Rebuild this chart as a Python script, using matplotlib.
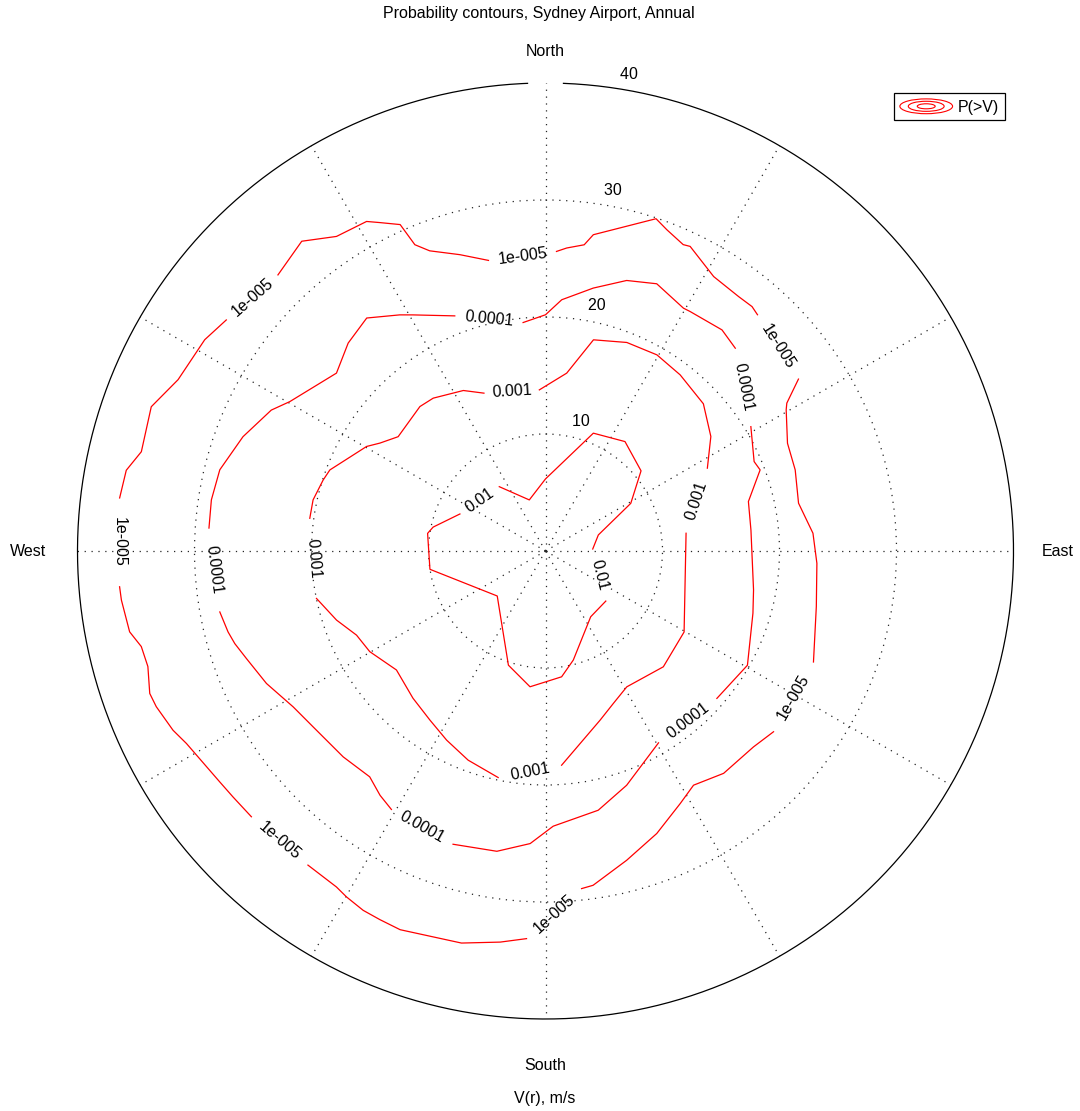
import numpy as np
import matplotlib
matplotlib.use('Agg')
import matplotlib.pyplot as plt
from matplotlib.lines import Line2D
from matplotlib.patches import Ellipse
from matplotlib.legend_handler import HandlerBase

plt.rcParams['font.family'] = ['Liberation Sans', 'DejaVu Sans']
FS = 11.5

# contour levels of P(>V); each contour is a list of pieces (bearing deg, speed m/s),
# the breaks between pieces are where the inline labels sit
level_names = ['0.01', '0.001', '0.0001', '1e-005']

dir_01 = [[324.3, 342.4, 0.0, 22.1, 36.0, 50.0, 60.8, 73.1, 87.6],
          [129.7, 145.5, 165.7, 172.7, 186.5, 198.0, 227.0, 261.0, 278.5, 282.0, 293.4]]
spd_01 = [[6.77, 4.58, 6.16, 10.87, 11.56, 10.66, 8.35, 4.72, 4.04],
          [6.70, 6.82, 9.62, 10.84, 11.68, 10.26, 5.64, 10.00, 10.19, 9.82, 7.97]]

dir_001 = [[357.8, 6.8, 12.8, 21.3, 29.6, 37.4, 47.0, 55.3, 62.9],
           [82.8, 120.3, 134.5, 149.1, 156.0, 162.1, 175.7],
           [191.8, 200.3, 207.6, 214.3, 222.0, 231.4, 240.2, 246.0, 251.7, 258.3],
           [277.9, 282.4, 287.7, 290.6, 300.3, 303.1, 307.8, 319.0, 323.7, 332.9, 338.7]]
spd_001 = [[13.78, 15.31, 18.51, 19.13, 19.28, 18.95, 18.45, 17.19, 15.54],
           [12.11, 13.72, 14.12, 13.53, 14.26, 15.19, 18.36],
           [19.78, 19.06, 18.24, 17.51, 16.93, 16.30, 17.31, 17.68, 18.81, 19.99],
           [20.34, 20.34, 19.95, 19.69, 17.71, 16.89, 15.94, 16.36, 16.21, 15.41, 14.48]]

dir_0001 = [[354.4, 0.0, 3.7, 10.3, 16.7, 22.6, 29.6, 31.1, 38.6, 43.1],
            [58.8, 66.8, 69.3, 76.3, 84.2, 100.6, 106.7, 119.5, 130.7],
            [149.5, 160.9, 168.5, 178.4, 183.0, 189.2, 197.5],
            [210.8, 214.1, 217.9, 224.5, 232.9, 238.3, 244.6, 250.2, 253.4, 255.7, 259.4],
            [273.9, 278.7, 284.0, 290.7, 297.2, 300.3, 310.4, 316.5, 322.5, 328.3, 330.7, 338.9]]
spd_0001 = [[19.62, 20.19, 21.52, 22.84, 24.14, 24.74, 23.87, 23.91, 24.18, 23.74],
            [20.52, 19.40, 19.61, 17.85, 17.65, 18.09, 18.51, 19.83, 19.32],
            [19.03, 21.19, 22.61, 23.53, 25.04, 26.00, 26.28],
            [25.72, 25.22, 24.46, 24.67, 24.91, 25.35, 26.40, 27.16, 27.71, 28.00, 28.32],
            [28.83, 28.89, 28.69, 27.64, 26.35, 25.31, 23.46, 24.50, 25.10, 23.72, 23.14, 21.54]]

dir_00001 = [[2.1, 4.0, 7.2, 8.6, 18.4, 20.7, 24.2, 25.4, 31.5, 37.2, 40.2, 41.9],
             [55.8, 58.5, 59.6, 66.0, 72.0, 79.3, 86.2, 92.6, 101.6, 112.5],
             [128.4, 133.3, 141.3, 147.7, 151.9, 158.5, 165.3, 171.9, 173.9],
             [182.8, 186.6, 192.1, 201.0, 204.2, 206.9, 209.9, 211.9, 217.1],
             [227.9, 231.8, 234.7, 241.8, 244.3, 248.2, 250.2, 253.8, 256.7, 259.0, 263.4, 265.2],
             [277.1, 280.9, 283.8, 290.1, 295.0, 301.8, 305.9],
             [315.9, 321.8, 326.4, 331.5, 333.2, 336.0, 336.9, 338.9, 343.9, 348.9]]
spd_00001 = [[25.62, 25.96, 26.38, 27.34, 29.93, 29.35, 28.71, 28.82, 27.51, 27.30, 27.35, 27.13],
             [26.14, 24.19, 23.85, 22.64, 22.44, 22.01, 22.91, 23.22, 23.63, 24.79],
             [24.87, 24.42, 24.35, 23.68, 24.46, 25.95, 27.33, 28.86, 29.02],
             [33.17, 33.65, 34.27, 34.67, 34.54, 34.44, 34.11, 33.82, 33.66],
             [33.88, 33.99, 34.13, 34.82, 35.33, 35.83, 35.95, 35.39, 35.50, 36.21, 36.49, 36.53],
             [36.68, 36.49, 35.57, 35.88, 34.65, 34.27, 33.68],
             [32.86, 33.69, 32.28, 32.05, 31.45, 30.54, 28.46, 27.50, 26.36, 25.31]]

contour_dirs = [dir_01, dir_001, dir_0001, dir_00001]
contour_spds = [spd_01, spd_001, spd_0001, spd_00001]

rings = [10, 20, 30, 40]
compass = ['North', 'East', 'South', 'West']


class ContourIcon(HandlerBase):
    def create_artists(self, legend, orig_handle, xdescent, ydescent,
                       width, height, fontsize, trans):
        cx, cy = width / 2 - xdescent, height / 2 - ydescent
        out = []
        for f in (1.0, 0.68, 0.34):
            out.append(Ellipse((cx, cy), width * f, height * f, fill=False,
                               edgecolor='red', lw=0.8, transform=trans))
        return out


fig = plt.figure(figsize=(10.8, 11.11), dpi=100)
ax = fig.add_axes([77.5 / 1080, 92 / 1111, 936 / 1080, 936 / 1111], projection='polar')
ax.set_theta_zero_location('N')
ax.set_theta_direction(-1)
ax.set_ylim(0, rings[-1])
ax.set_xticks(np.radians(np.arange(0, 360, 30)))
ax.set_xticklabels([])
ax.set_yticks(rings[:-1])
ax.set_yticklabels([])
ax.tick_params(length=0)
ax.grid(True, color='0.15', linestyle=(0, (1, 4.5)), linewidth=0.9)
ax.spines['polar'].set_visible(False)

# outer circle (small break at north as in the original)
th = np.radians(np.linspace(2.2, 357.8, 500))
ax.plot(th, np.full_like(th, rings[-1]), color='k', lw=0.9, clip_on=False)

# ring labels
for r in rings:
    ax.text(np.radians(8), r + 0.5, '  %d' % r, ha='left', va='bottom', fontsize=FS)

compass_r = [42.7, 43.75, 43.97, 44.2]
for k, (name, rr) in enumerate(zip(compass, compass_r)):
    ax.text(np.radians(90 * k), rr, name, ha='center', va='center', fontsize=FS)

# contours
for name, dirs, spds in zip(level_names, contour_dirs, contour_spds):
    n = len(dirs)
    for d, s in zip(dirs, spds):
        ax.plot(np.radians(d), s, color='red', lw=0.9)
    for i in range(n):
        d0, s0 = np.radians(dirs[i][-1]), spds[i][-1]
        d1, s1 = np.radians(dirs[(i + 1) % n][0]), spds[(i + 1) % n][0]
        x0, y0 = s0 * np.sin(d0), s0 * np.cos(d0)
        x1, y1 = s1 * np.sin(d1), s1 * np.cos(d1)
        xm, ym = (x0 + x1) / 2, (y0 + y1) / 2
        ang = np.degrees(np.arctan2(y1 - y0, x1 - x0))
        # keep labels readable; near-vertical ones read downwards
        if ang > 88:
            ang -= 180
        elif ang < -92:
            ang += 180
        ax.text(np.arctan2(xm, ym), np.hypot(xm, ym), name, rotation=ang,
                rotation_mode='anchor', ha='center', va='center', fontsize=FS)

fig.text(539 / 1080, 1 - 13.5 / 1111, 'Probability contours, Sydney Airport, Annual',
         ha='center', va='center', fontsize=FS)
fig.text(545 / 1080, 12 / 1111, 'V(r), m/s', ha='center', va='center', fontsize=FS)

proxy = Line2D([], [], color='red')
leg = fig.legend(handles=[proxy], labels=['P(>V)'], loc='upper right',
                 bbox_to_anchor=(1005 / 1080, 1 - 93.3 / 1111), borderaxespad=0,
                 fancybox=False, edgecolor='k', framealpha=1, fontsize=FS,
                 handlelength=3.3, handleheight=1.05, handletextpad=0.35, borderpad=0.35,
                 handler_map={proxy: ContourIcon()})
leg.get_frame().set_linewidth(0.9)

fig.savefig('out.png', dpi=100)
